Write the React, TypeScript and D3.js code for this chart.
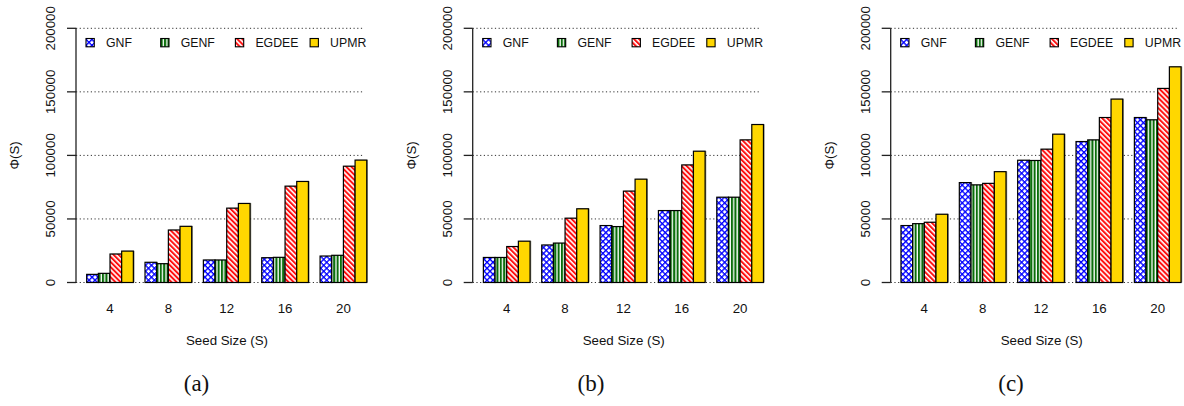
import React, { useEffect, useRef } from "react";
import * as d3 from "d3";

// seed sizes (groups) and methods (series)
const seedSizes = ["4", "8", "12", "16", "20"];
const methods = ["GNF", "GENF", "EGDEE", "UPMR"];
const yTicks = [0, 50000, 100000, 150000, 200000];
const panelLabels = ["(a)", "(b)", "(c)"];

// panel (a)
const gnfA = [6400, 15900, 17700, 19500, 20800];
const genfA = [7200, 14800, 17700, 19800, 21400];
const egdeeA = [22400, 41300, 58500, 75800, 91500];
const upmrA = [24700, 44200, 62200, 79500, 96300];

// panel (b)
const gnfB = [19700, 29500, 44800, 56600, 67100];
const genfB = [19700, 31000, 44000, 56600, 67100];
const egdeeB = [28300, 50600, 71900, 92500, 112200];
const upmrB = [32500, 58000, 81300, 103300, 124300];

// panel (c)
const gnfC = [44800, 78600, 96200, 110900, 129800];
const genfC = [46300, 76800, 96000, 112200, 128000];
const egdeeC = [47400, 78000, 104900, 129800, 152700];
const upmrC = [53700, 87200, 116700, 144300, 169700];

const panels = [
  [gnfA, genfA, egdeeA, upmrA],
  [gnfB, genfB, egdeeB, upmrB],
  [gnfC, genfC, egdeeC, upmrC],
];

const fills = ["url(#pat-gnf)", "url(#pat-genf)", "url(#pat-egdee)", "#FFD700"];

export default function App() {
  const ref = useRef<SVGSVGElement>(null);

  const width = 1184;
  const height = 406;
  const unit = 11.67; // one bar width
  const panelX = [75, 471.7, 889.3]; // left edge (unit 0) of each panel
  const axisX = [76, 472.7, 890.7];
  const captionX = [196.5, 591, 1011];
  const plotTop = 28.3;
  const plotBottom = 282.5;
  const font = "'Liberation Sans', Arial, Helvetica, sans-serif";

  useEffect(() => {
    const svg = d3.select(ref.current);
    svg.selectAll("*").remove();

    const defs = svg.append("defs");

    // GNF: blue crosshatch
    const pGnf = defs.append("pattern")
      .attr("id", "pat-gnf")
      .attr("patternUnits", "userSpaceOnUse")
      .attr("width", 4.2).attr("height", 4.2)
      .attr("patternTransform", "rotate(45)");
    pGnf.append("rect").attr("width", 4.2).attr("height", 4.2).attr("fill", "white");
    pGnf.append("line").attr("x1", 0).attr("y1", 0).attr("x2", 0).attr("y2", 4.2)
      .attr("stroke", "#0000ff").attr("stroke-width", 2.7);
    pGnf.append("line").attr("x1", 0).attr("y1", 0).attr("x2", 4.2).attr("y2", 0)
      .attr("stroke", "#0000ff").attr("stroke-width", 2.7);

    // GENF: green vertical stripes
    const pGenf = defs.append("pattern")
      .attr("id", "pat-genf")
      .attr("patternUnits", "userSpaceOnUse")
      .attr("width", 3.4).attr("height", 3.4);
    pGenf.append("rect").attr("width", 3.4).attr("height", 3.4).attr("fill", "white");
    pGenf.append("rect").attr("x", 0).attr("width", 2.1).attr("height", 3.4).attr("fill", "#0a6e0a");

    // EGDEE: red diagonal hatching
    const pEg = defs.append("pattern")
      .attr("id", "pat-egdee")
      .attr("patternUnits", "userSpaceOnUse")
      .attr("width", 3.6).attr("height", 3.6)
      .attr("patternTransform", "rotate(-45)");
    pEg.append("rect").attr("width", 3.6).attr("height", 3.6).attr("fill", "white");
    pEg.append("rect").attr("width", 2).attr("height", 3.6).attr("fill", "#ff1010");

    const y = d3.scaleLinear().domain([0, 200000]).range([plotBottom, plotTop]);

    panels.forEach((series, p) => {
      const x = d3.scaleLinear().domain([0, 25]).range([panelX[p], panelX[p] + 25 * unit]);
      const g = svg.append("g");
      const ax = axisX[p];

      // dotted grid lines
      g.selectAll("line.grid")
        .data(yTicks)
        .join("line")
        .attr("class", "grid")
        .attr("x1", ax).attr("x2", x(25) - 4)
        .attr("y1", d => y(d)).attr("y2", d => y(d))
        .attr("stroke", "#333")
        .attr("stroke-width", 1)
        .attr("stroke-dasharray", "1.2,2.5");

      // bars
      series.forEach((vals, s) => {
        const bars = g.append("g");
        vals.forEach((v, gi) => {
          const x0 = x(gi * 5 + 1 + s);
          const x1 = x(gi * 5 + 2 + s);
          bars.append("rect")
            .attr("x", x0 + 1.2).attr("y", y(v) - 0.3)
            .attr("width", x1 - x0).attr("height", y(0) - y(v) + 0.3)
            .attr("fill", "#3a3a1a").attr("opacity", 0.55);
          bars.append("rect")
            .attr("x", x0).attr("y", y(v))
            .attr("width", x1 - x0).attr("height", y(0) - y(v))
            .attr("fill", fills[s])
            .attr("stroke", "#000")
            .attr("stroke-width", 1.2);
        });
      });

      // y axis
      g.append("line")
        .attr("x1", ax).attr("x2", ax)
        .attr("y1", y(0)).attr("y2", y(200000))
        .attr("stroke", "#222").attr("stroke-width", 1.3);
      g.selectAll("line.tick")
        .data(yTicks)
        .join("line")
        .attr("class", "tick")
        .attr("x1", ax - 9).attr("x2", ax)
        .attr("y1", d => y(d)).attr("y2", d => y(d))
        .attr("stroke", "#222").attr("stroke-width", 1.3);
      g.selectAll("text.ytick")
        .data(yTicks)
        .join("text")
        .attr("class", "ytick")
        .attr("transform", d => `translate(${ax - 21},${y(d)}) rotate(-90)`)
        .attr("text-anchor", "middle")
        .attr("font-family", font)
        .attr("font-size", 13.3)
        .attr("fill", "#111")
        .text(d => String(d));

      // y label
      g.append("text")
        .attr("transform", `translate(${ax - 57},${(plotTop + plotBottom) / 2}) rotate(-90)`)
        .attr("text-anchor", "middle")
        .attr("font-family", font)
        .attr("font-size", 13.3)
        .attr("fill", "#111")
        .text("Φ(S)");

      // x tick labels
      g.selectAll("text.xtick")
        .data(seedSizes)
        .join("text")
        .attr("class", "xtick")
        .attr("x", (d, i) => x(i * 5 + 3))
        .attr("y", 312.5)
        .attr("text-anchor", "middle")
        .attr("font-family", font)
        .attr("font-size", 13.3)
        .attr("fill", "#111")
        .text(d => d);

      // x label
      g.append("text")
        .attr("x", ax + 151)
        .attr("y", 344.5)
        .attr("text-anchor", "middle")
        .attr("font-family", font)
        .attr("font-size", 13.3)
        .attr("fill", "#111")
        .text("Seed Size (S)");

      // legend
      const legend = g.selectAll("g.legend")
        .data(methods)
        .join("g")
        .attr("class", "legend")
        .attr("transform", (d, i) => `translate(${ax + 10 + i * 74.7},${38.5})`);
      legend.append("rect")
        .attr("width", 8.3).attr("height", 8.3)
        .attr("fill", (d, i) => fills[i])
        .attr("stroke", "#000").attr("stroke-width", 1.1);
      legend.append("text")
        .attr("x", 20).attr("y", 8.5)
        .attr("font-family", font)
        .attr("font-size", 12.3)
        .attr("fill", "#111")
        .text(d => d);

      // caption
      svg.append("text")
        .attr("x", captionX[p])
        .attr("y", 391)
        .attr("text-anchor", "middle")
        .attr("font-family", "'Liberation Serif', 'DejaVu Serif', serif")
        .attr("font-size", 23)
        .attr("fill", "#111")
        .text(panelLabels[p]);
    });
  }, []);

  return (
    <div>
      <svg
        ref={ref}
        width={width}
        height={height}
        style={{ position: "absolute", left: 0, top: 0, background: "white" }}
      />
    </div>
  );
}
